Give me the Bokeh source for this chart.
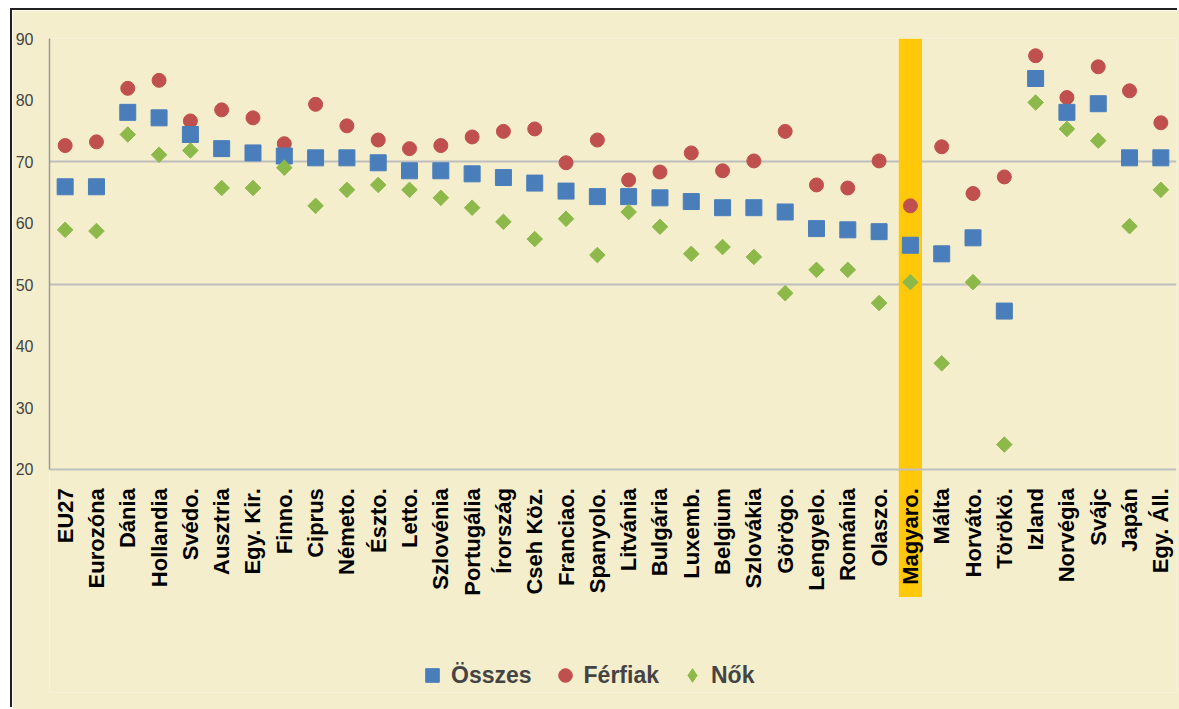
import math
from bokeh.plotting import figure
from bokeh.models import Range1d, FixedTicker, BoxAnnotation, Legend, LegendItem, Grid
from bokeh.embed import file_html
from bokeh.resources import INLINE

cats = ["EU27", "Eurozóna", "Dánia", "Hollandia", "Svédo.", "Ausztria", "Egy. Kir.",
        "Finno.", "Ciprus", "Németo.", "Észto.", "Letto.", "Szlovénia", "Portugália",
        "Írország", "Cseh Köz.", "Franciao.", "Spanyolo.", "Litvánia", "Bulgária",
        "Luxemb.", "Belgium", "Szlovákia", "Görögo.", "Lengyelo.", "Románia", "Olaszo.",
        "Magyaro.", "Málta", "Horváto.", "Törökö.", "Izland", "Norvégia", "Svájc",
        "Japán", "Egy. Áll."]

osszes = [65.9, 65.9, 78.0, 77.1, 74.4, 72.1, 71.4, 70.9, 70.6, 70.6, 69.8, 68.5,
          68.5, 68.0, 67.4, 66.5, 65.2, 64.3, 64.3, 64.1, 63.5, 62.5, 62.5, 61.8,
          59.1, 58.9, 58.6, 56.4, 55.0, 57.6, 45.7, 83.5, 78.0, 79.4, 70.6, 70.6]
ferfiak = [72.6, 73.2, 81.9, 83.2, 76.6, 78.4, 77.1, 72.9, 79.3, 75.8, 73.5, 72.1,
           72.6, 74.0, 74.9, 75.3, 69.8, 73.5, 67.0, 68.3, 71.4, 68.5, 70.1, 74.9,
           66.2, 65.7, 70.1, 62.8, 72.4, 64.8, 67.5, 87.2, 80.4, 85.4, 81.5, 76.3]
nok = [58.9, 58.7, 74.4, 71.1, 71.8, 65.7, 65.7, 69.0, 62.8, 65.4, 66.2, 65.4,
       64.1, 62.5, 60.2, 57.4, 60.7, 54.8, 61.8, 59.4, 55.0, 56.1, 54.5, 48.6,
       52.4, 52.4, 47.0, 50.4, 37.2, 50.4, 24.0, 79.6, 75.3, 73.4, 59.5, 65.4]

y_ticks = [20, 30, 40, 50, 60, 70, 80, 90]
grid_ticks = [50, 70]
y_min, y_max = 20, 90
highlight = "Magyaro."

bg = "#F4EECD"
FONT = "Liberation Sans"

# frame extends below the value axis so the highlight band and legend can be drawn
p = figure(x_range=cats, y_range=Range1d(-16.3, y_max), width=1167, height=699,
           output_backend="svg", toolbar_location=None,
           min_border_left=35, min_border_top=28, min_border_bottom=17, min_border_right=3,
           background_fill_color=bg, border_fill_color=bg,
           outline_line_color=None,
           styles={"margin-left": "12px", "margin-top": "10px",
                   "box-shadow": "-2px -2px 0 0 #222"})

# y axis
p.yaxis.ticker = FixedTicker(ticks=y_ticks)
p.yaxis.bounds = (y_min, y_max)
p.yaxis.major_tick_line_color = None
p.yaxis.major_tick_out = 0
p.yaxis.major_tick_in = 0
p.yaxis.minor_tick_line_color = None
p.yaxis.minor_tick_out = 0
p.yaxis.axis_line_color = "#9A9A9A"
p.yaxis.axis_line_width = 1.5
p.yaxis.major_label_text_font = FONT
p.yaxis.major_label_text_font_size = "16px"
p.yaxis.major_label_text_color = "#444444"
p.yaxis.major_label_standoff = 16

# x axis, fixed at the bottom of the value range
p.xaxis.fixed_location = y_min
p.xaxis.major_label_orientation = math.pi / 2
p.xaxis.major_label_text_font = FONT
p.xaxis.major_label_text_font_style = "bold"
p.xaxis.major_label_text_font_size = "22px"
p.xaxis.major_label_text_color = "#000000"
p.xaxis.major_tick_line_color = None
p.xaxis.major_tick_out = 0
p.xaxis.major_tick_in = 0
p.xaxis.major_label_standoff = 19
p.xaxis.axis_line_color = "#C0C0C0"
p.xaxis.axis_line_width = 2

p.xgrid.visible = False
p.ygrid.ticker = FixedTicker(ticks=grid_ticks)
p.ygrid.grid_line_color = "#BDBDBD"
p.ygrid.grid_line_width = 2
top_grid = Grid(dimension=1, ticker=FixedTicker(ticks=[y_max]),
                grid_line_color="#9A9A9A", grid_line_width=3)
p.add_layout(top_grid)

hi = cats.index(highlight) + 0.5
band = BoxAnnotation(left=hi - 0.37, right=hi + 0.37, top=y_max, bottom=-0.79,
                     fill_color="#FFC80A", fill_alpha=1.0, line_color=None, level="underlay")
p.add_layout(band)

r_f = p.scatter(x=cats, y=ferfiak, marker="circle", size=14,
                fill_color="#C0504D", line_color="#C0504D")
r_o = p.scatter(x=cats, y=osszes, marker="square", size=16,
                fill_color="#4A7EBB", line_color="#4A7EBB")
r_n = p.scatter(x=cats, y=nok, marker="square", angle=math.pi / 4, size=11,
                fill_color="#8DB94B", line_color="#8DB94B")
# hidden diamond renderer used only as the legend swatch for the rotated-square series
r_n_key = p.scatter(x=cats, y=nok, marker="diamond", size=20,
                    fill_color="#8DB94B", line_color="#8DB94B", visible=False)

legend = Legend(items=[LegendItem(label="Összes", renderers=[r_o]),
                       LegendItem(label="Férfiak", renderers=[r_f]),
                       LegendItem(label="Nők", renderers=[r_n_key])],
                orientation="horizontal", location=(366, 0), margin=0, padding=2,
                background_fill_alpha=0, border_line_color=None,
                inactive_fill_alpha=0,
                label_text_font=FONT, label_text_font_style="bold",
                label_text_font_size="23px", label_standoff=2, spacing=16,
                glyph_width=34, glyph_height=34)
p.add_layout(legend)

open("out.html", "w").write(file_html(p, INLINE))
